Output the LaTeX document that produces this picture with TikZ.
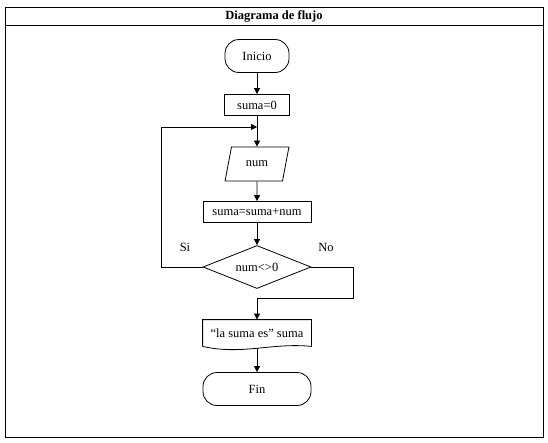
\documentclass[tikz,border=0pt]{standalone}
\usepackage{fontspec}
\setmainfont{Liberation Serif}
\usetikzlibrary{arrows.meta,shapes.geometric}

\begin{document}
\begin{tikzpicture}[x=1pt,y=-1pt,line width=0.8pt,font=\fontsize{12.5}{14}\selectfont,
    proc/.style={draw,minimum height=21pt,inner sep=3pt},
    term/.style={draw,rounded corners=14pt,minimum height=33pt},
    iobox/.style={draw,trapezium,trapezium left angle=74,trapezium right angle=106,trapezium stretches=true,minimum width=64pt,minimum height=34pt},
    cond/.style={draw,diamond,aspect=2.5,minimum width=108pt,minimum height=43pt,inner sep=0pt},
    flow/.style={-{Triangle[length=6pt,width=6pt]}}]
    \useasboundingbox(0,0)rectangle(548,442);
    \draw[line width=1pt](5,7)rectangle(543,437);
    \draw[line width=1pt](5,25)--(543,25);
    \node[font=\fontsize{12.5}{14}\selectfont\bfseries](title)at(274,16){Diagrama de flujo};

    \node[term,minimum width=64pt](inicio)at(257,56){Inicio};
    \node[proc,minimum width=65pt](suma0)at(257,105){suma=0};
    \node[iobox](num)at(257,164){num};
    \node[proc,minimum width=108pt](acum)at(257,212){suma=suma+num};
    \node[cond](test)at(257,267){num<>0};
    \node[minimum width=108pt,minimum height=26pt,inner sep=0pt](salida)at(257,333){``la suma es'' suma};
    \draw(salida.south west)--(salida.north west)--(salida.north east)--(salida.south east)
        ..controls +(-40,-4) and +(40,9)..(salida.south west);
    \node[term,minimum width=108pt](fin)at(257,389){Fin};

    \node(si)at(185,247){Si};
    \node(no)at(326,247){No};

    \coordinate(join)at(257,127);
    \coordinate(back)at(161,127);
    \coordinate(noR)at(353,298);
    \coordinate(merge)at(257,298);

    \draw[flow](inicio)--(suma0);
    \draw[flow](suma0)--(num);
    \draw[flow](num)--(acum);
    \draw[flow](acum)--(test);
    \draw[flow](test.west)-|(back)--(join);
    \draw(test.east)-|(noR)--(merge);
    \draw[flow](merge)--(salida);
    \draw[flow](salida.south)++(0,2)--(fin);
\end{tikzpicture}
\end{document}
